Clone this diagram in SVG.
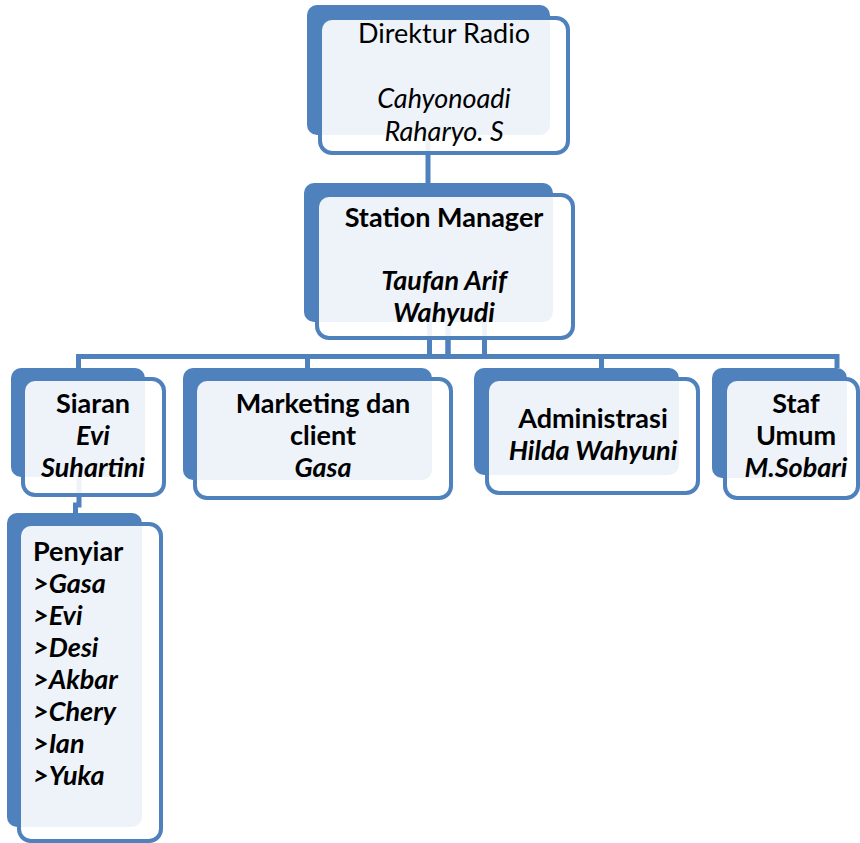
<svg xmlns="http://www.w3.org/2000/svg" width="860" height="843" viewBox="0 0 860 843">
<style>
.bk{fill:#4F81BD}
.fr{fill:#FFFFFF;fill-opacity:0.9;stroke:#4F81BD;stroke-width:4}
.cn{fill:none;stroke:#4F81BD;stroke-width:5}
text{font-family:Lato,"Open Sans","Liberation Sans",sans-serif;font-size:27px;fill:#000}
.c{text-anchor:middle}
.b{font-weight:bold}
.i{font-style:italic}
</style>
<rect width="860" height="843" fill="#FFFFFF"/>
<g id="connectors">
<path class="cn" d="M428,135 V183"/>
<path class="cn" d="M429.5,322 V356.5 H78.5 V368"/>
<path class="cn" d="M448,322 V356.5 H307.5 V368"/>
<path class="cn" d="M448,322 V356.5 H601.5 V368"/>
<path class="cn" d="M484.5,322 V356.5 H837 V368"/>
<path class="cn" d="M79,477 V505 H75.5 V513"/>
</g>
<g id="direktur">
<rect class="bk" x="307" y="5" width="243" height="130" rx="10"/>
<rect class="fr" x="320" y="18" width="248" height="135" rx="12"/>
<text class="c" x="444" y="43">Direktur Radio</text>
<text class="c i" x="444" y="108">Cahyonoadi</text>
<text class="c i" x="444" y="141">Raharyo. S</text>
</g>
<g id="station-manager">
<rect class="bk" x="304" y="183" width="249" height="139" rx="10"/>
<rect class="fr" x="317" y="195" width="256" height="143" rx="12"/>
<text class="c b" x="444" y="227">Station Manager</text>
<text class="c b i" x="444" y="290">Taufan Arif</text>
<text class="c b i" x="444" y="322">Wahyudi</text>
</g>
<g id="siaran">
<rect class="bk" x="11" y="368" width="134" height="109" rx="10"/>
<rect class="fr" x="23" y="379" width="141" height="116" rx="12"/>
<text class="c b" x="93" y="413">Siaran</text>
<text class="c b i" x="93" y="445">Evi</text>
<text class="c b i" x="93" y="477">Suhartini</text>
</g>
<g id="marketing">
<rect class="bk" x="183" y="368" width="249" height="112" rx="10"/>
<rect class="fr" x="195" y="379" width="256" height="119" rx="12"/>
<text class="c b" x="323" y="413">Marketing dan</text>
<text class="c b" x="323" y="445">client</text>
<text class="c b i" x="323" y="477">Gasa</text>
</g>
<g id="administrasi">
<rect class="bk" x="474" y="368" width="205" height="107" rx="10"/>
<rect class="fr" x="487" y="379" width="211" height="114" rx="12"/>
<text class="c b" x="593" y="428">Administrasi</text>
<text class="c b i" x="593" y="460">Hilda Wahyuni</text>
</g>
<g id="staf-umum">
<rect class="bk" x="712" y="368" width="135" height="110" rx="10"/>
<rect class="fr" x="725" y="379" width="133" height="119" rx="12"/>
<text class="c b" x="796" y="413">Staf</text>
<text class="c b" x="796" y="445">Umum</text>
<text class="c b i" x="796" y="477">M.Sobari</text>
</g>
<g id="penyiar">
<rect class="bk" x="7" y="513" width="135" height="314" rx="10"/>
<rect class="fr" x="19" y="524" width="142" height="317" rx="12"/>
<text class="b" x="33" y="561">Penyiar</text>
<text class="b i" x="33" y="593">&gt;Gasa</text>
<text class="b i" x="33" y="625">&gt;Evi</text>
<text class="b i" x="33" y="657">&gt;Desi</text>
<text class="b i" x="33" y="689">&gt;Akbar</text>
<text class="b i" x="33" y="721">&gt;Chery</text>
<text class="b i" x="33" y="753">&gt;Ian</text>
<text class="b i" x="33" y="785">&gt;Yuka</text>
</g>
</svg>
